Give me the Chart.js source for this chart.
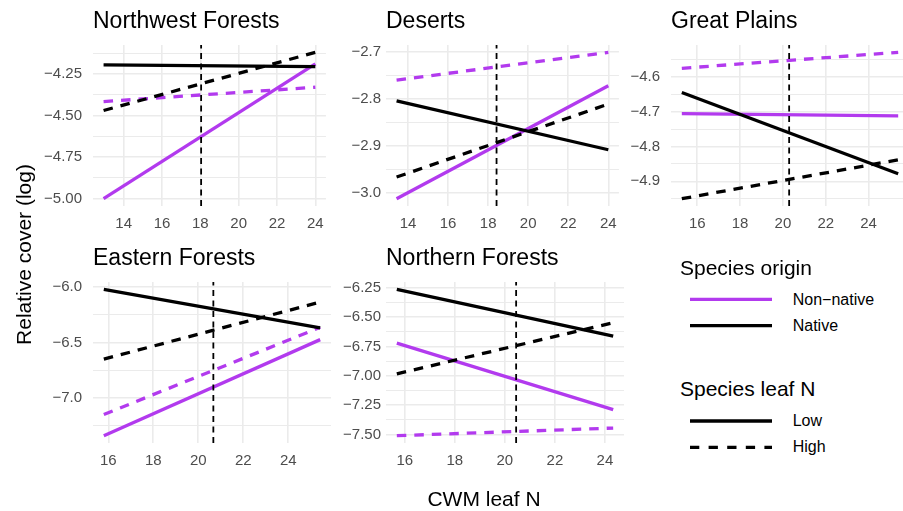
<!DOCTYPE html>
<html>
<head>
<meta charset="utf-8">
<script src="https://cdn.jsdelivr.net/npm/chart.js@4.4.0/dist/chart.umd.min.js"></script>
<style>
html,body{margin:0;padding:0;background:#fff;width:903px;height:511px;overflow:hidden;position:relative;font-family:"Liberation Sans",Arial,sans-serif;}
.txt{position:absolute;white-space:nowrap;color:#000;line-height:1;}
canvas{position:absolute;}
</style>
</head>
<body>
<script>
// ---------- data ----------
const panelNames = ['Northwest Forests', 'Deserts', 'Great Plains', 'Eastern Forests', 'Northern Forests'];
const cwmStart = [12.95, 13.43, 15.28, 15.80, 15.68];
const cwmEnd   = [24.00, 24.00, 25.38, 25.42, 24.33];
const cwmMean  = [18.04, 18.42, 20.29, 20.67, 20.45];
const nonNativeLow  = [[-5.000, -4.190], [-3.012, -2.772], [-4.705, -4.711], [-7.342, -6.475], [-6.722, -7.287]];
const nonNativeHigh = [[-4.416, -4.330], [-2.760, -2.701], [-4.574, -4.528], [-7.151, -6.364], [-7.509, -7.444]];
const nativeLow     = [[-4.196, -4.206], [-2.804, -2.908], [-4.644, -4.878], [-6.021, -6.369], [-6.264, -6.663]];
const nativeHigh    = [[-4.470, -4.120], [-2.966, -2.811], [-4.950, -4.838], [-6.651, -6.136], [-6.983, -6.548]];
const xTickLabels = [
  ['14','16','18','20','22','24'],
  ['14','16','18','20','22','24'],
  ['16','18','20','22','24'],
  ['16','18','20','22','24'],
  ['16','18','20','22','24']
];
const yTickLabels = [
  ['−5.00','−4.75','−4.50','−4.25'],
  ['−3.0','−2.9','−2.8','−2.7'],
  ['−4.9','−4.8','−4.7','−4.6'],
  ['−7.0','−6.5','−6.0'],
  ['−7.50','−7.25','−7.00','−6.75','−6.50','−6.25']
];
const originLabels = ['Non−native', 'Native'];
const leafNLabels = ['Low', 'High'];

// ---------- layout / style ----------
const PURPLE = '#B23AEE';
const FONT = '"Liberation Sans", Arial, sans-serif';
const colLeft = [93, 386, 671];
const rowTop = [45, 282];
const PW = 238, PH = 161;
const YW = 70, TOPH = 44, XH = 32, RP = 2;
const yPad = [11, 5, 11];

Chart.defaults.font.family = FONT;

function parseNum(s){ return parseFloat(s.replace('−','-')); }
function expand(a, b){ const r = b - a; return [a - 0.05*r, b + 0.05*r]; }

function build(i){
  const col = i % 3, row = Math.floor(i / 3);
  const pl = colLeft[col], pt = rowTop[row];
  const W = YW + PW + RP, H = TOPH + PH + XH;
  const canvas = document.createElement('canvas');
  canvas.width = W; canvas.height = H;
  canvas.style.left = (pl - YW) + 'px';
  canvas.style.top = (pt - TOPH) + 'px';
  canvas.style.width = W + 'px';
  canvas.style.height = H + 'px';
  document.body.appendChild(canvas);

  const xs = [cwmStart[i], cwmEnd[i]];
  const seg = arr => [{x: xs[0], y: arr[i][0]}, {x: xs[1], y: arr[i][1]}];
  const allY = [].concat(nonNativeLow[i], nonNativeHigh[i], nativeLow[i], nativeHigh[i]);
  const [ymin, ymax] = expand(Math.min(...allY), Math.max(...allY));
  const [xmin, xmax] = expand(xs[0], xs[1]);

  const yMajor = yTickLabels[i].map(parseNum);
  const labelMap = {};
  yTickLabels[i].forEach((s, k) => { labelMap[yMajor[k].toFixed(4)] = s; });
  const half = (yMajor[1] - yMajor[0]) / 2;
  const yTicks = [];
  for (let k = -2; k <= yMajor.length * 2 + 2; k++) {
    const v = yMajor[0] + k * half;
    if (v >= ymin - 1e-9 && v <= ymax + 1e-9) yTicks.push(v);
  }
  const xMajor = xTickLabels[i].map(parseNum);

  const lineDs = (label, arr, color, dashed, order) => ({
    label, data: seg(arr), borderColor: color, borderWidth: 3.3,
    borderDash: dashed ? [9.5, 8] : [], borderCapStyle: 'butt',
    pointRadius: 0, tension: 0, fill: false, order
  });

  new Chart(canvas, {
    type: 'line',
    data: {
      datasets: [
        {label: 'mean CWM leaf N', data: [{x: cwmMean[i], y: ymin}, {x: cwmMean[i], y: ymax}],
         borderColor: '#000', borderWidth: 1.8, borderDash: [6, 4.5], pointRadius: 0, fill: false, order: 0},
        lineDs('Native High', nativeHigh, '#000', true, 1),
        lineDs('Native Low', nativeLow, '#000', false, 2),
        lineDs('Non-native High', nonNativeHigh, PURPLE, true, 3),
        lineDs('Non-native Low', nonNativeLow, PURPLE, false, 4)
      ]
    },
    options: {
      responsive: false,
      devicePixelRatio: 1,
      animation: false,
      events: [],
      layout: {padding: {top: 0, left: 0, right: RP, bottom: 0}},
      plugins: {
        legend: {display: false},
        tooltip: {enabled: false},
        title: {
          display: true, text: panelNames[i], align: 'start', fullSize: false,
          color: '#000', font: {size: 23, family: FONT, weight: 'normal', lineHeight: 1.2},
          padding: {top: 7.2, bottom: 9.2}
        }
      },
      scales: {
        x: {
          type: 'linear', min: xmin, max: xmax,
          afterBuildTicks: s => { s.ticks = xMajor.map(v => ({value: v})); },
          afterFit: s => { s.height = XH; },
          ticks: {
            autoSkip: false, maxRotation: 0, padding: 9, color: '#4D4D4D',
            font: {size: 15, family: FONT},
            callback: v => { const k = xMajor.findIndex(m => Math.abs(m - v) < 1e-6); return k >= 0 ? xTickLabels[i][k] : ''; }
          },
          grid: {color: '#EBEBEB', lineWidth: 1.6, drawTicks: false},
          border: {display: false}
        },
        y: {
          type: 'linear', position: 'left', min: ymin, max: ymax,
          afterBuildTicks: s => { s.ticks = yTicks.map(v => ({value: v})); },
          afterFit: s => { s.width = YW; },
          ticks: {
            autoSkip: false, padding: yPad[col], color: '#4D4D4D',
            font: {size: 15, family: FONT},
            callback: v => labelMap[v.toFixed(4)] || ''
          },
          grid: {
            color: '#EBEBEB', drawTicks: false,
            lineWidth: c => (c.tick && labelMap[c.tick.value.toFixed(4)]) ? 1.6 : 1.0
          },
          border: {display: false}
        }
      }
    }
  });
}

for (let i = 0; i < panelNames.length; i++) build(i);

// ---------- axis titles & legend (HTML text) ----------
function addText(text, left, baseline, size, extra){
  const d = document.createElement('div');
  d.className = 'txt';
  d.textContent = text;
  d.style.fontSize = size + 'px';
  d.style.left = left + 'px';
  d.style.top = (baseline - 0.8465 * size) + 'px';
  if (extra) Object.assign(d.style, extra);
  document.body.appendChild(d);
  return d;
}
// x title
addText('CWM leaf N', 484, 505.7, 21, {transform: 'translateX(-50%)'});
// y title (rotated)
const yt = document.createElement('div');
yt.className = 'txt';
yt.textContent = 'Relative cover (log)';
Object.assign(yt.style, {fontSize: '21px', lineHeight: '21px', width: '300px', textAlign: 'center',
  left: (23 - 150) + 'px', top: (254 - 10.5) + 'px', transform: 'rotate(-90deg)'});
document.body.appendChild(yt);

// legend
addText('Species origin', 680, 275, 21);
addText(originLabels[0], 792.7, 306, 16);
addText(originLabels[1], 792.7, 331.5, 16);
addText('Species leaf N', 680, 396, 21);
addText(leafNLabels[0], 792.7, 427, 16);
addText(leafNLabels[1], 792.7, 453, 16);

const NS = 'http://www.w3.org/2000/svg';
const svg = document.createElementNS(NS, 'svg');
svg.setAttribute('width', '903'); svg.setAttribute('height', '511');
svg.style.position = 'absolute'; svg.style.left = '0'; svg.style.top = '0';
const keys = [
  {y: 299.3, color: PURPLE, dash: null},
  {y: 325.7, color: '#000', dash: null},
  {y: 421.0, color: '#000', dash: null},
  {y: 447.3, color: '#000', dash: '9.3 9.3'}
];
keys.forEach(k => {
  const l = document.createElementNS(NS, 'line');
  l.setAttribute('x1', '690'); l.setAttribute('x2', '772');
  l.setAttribute('y1', k.y); l.setAttribute('y2', k.y);
  l.setAttribute('stroke', k.color); l.setAttribute('stroke-width', '3.3');
  if (k.dash) l.setAttribute('stroke-dasharray', k.dash);
  svg.appendChild(l);
});
document.body.appendChild(svg);
</script>
</body>
</html>
